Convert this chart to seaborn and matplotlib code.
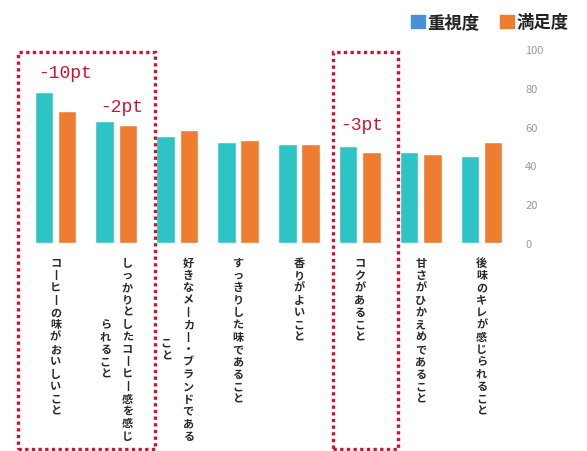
import numpy as np
import pandas as pd
import matplotlib.pyplot as plt
import matplotlib.patches as mpatches
import matplotlib.transforms as mtransforms
import seaborn as sns

# data
items = [
    "コーヒーの味がおいしいこと",
    "しっかりとしたコーヒー感を感じ\nられること",
    "好きなメーカー・ブランドである\nこと",
    "すっきりした味であること",
    "香りがよいこと",
    "コクがあること",
    "甘さがひかえめであること",
    "後味のキレが感じられること",
]
importance = [78, 63, 55, 52, 51, 50, 47, 45]
satisfaction = [68, 61, 58, 53, 51, 47, 46, 52]
series = ["重視度", "満足度"]
yticks = [0, 20, 40, 60, 80, 100]
delta_groups = [0, 1, 5]

# styling / placement
bar_colors = {"重視度": "#2ec4c6", "満足度": "#ee7d31"}
legend_colors = {"重視度": "#4a90d9", "満足度": "#ee7d31"}
red = "#cc1530"
box_spans = [(-0.62, 1.64), (4.56, 5.62)]
delta_pos = [(-0.29, 88), (0.73, 70.6), (4.68, 61.3)]
vertical_forms = {"ー": "丨"}  # long vowel mark drawn upright in vertical text

df = pd.DataFrame({
    "item": items * 2,
    "series": [series[0]] * len(items) + [series[1]] * len(items),
    "value": importance + satisfaction,
})

sns.set_style("white")
plt.rcParams["font.family"] = ["Noto Sans CJK JP", "DejaVu Sans"]

fig = plt.figure(figsize=(5.87, 4.52), dpi=100)
ax = fig.add_axes([25 / 587, 208 / 452, 487 / 587, 194 / 452])

sns.barplot(data=df, x="item", y="value", hue="series", palette=bar_colors,
            width=0.76, gap=0.2, saturation=1, legend=False, ax=ax)

ax.set_xlim(-0.5, len(items) - 0.5)
ax.set_ylim(0, 100)
ax.set_yticks(yticks)
ax.yaxis.tick_right()
ax.tick_params(axis="y", length=0, pad=9.4, labelcolor="#999999", labelsize=8)
ax.set_xticks(range(len(items)))
ax.set_xticklabels([])
ax.tick_params(axis="x", length=0)
ax.set_xlabel("")
ax.set_ylabel("")
for s in ax.spines.values():
    s.set_visible(False)
ax.axhline(0, color="#ececec", lw=0.8, zorder=0)

# vertical (tategaki) category labels, one glyph at a time
trans_lbl = ax.get_xaxis_transform()
char_step = 8.9
col_step = 15.8
for i, label in enumerate(items):
    cols = label.split("\n")
    n0 = len(cols[0])
    for j, col in enumerate(cols):
        dx = ((len(cols) - 1) / 2 - j) * col_step
        dy0 = 13.7 + (n0 - len(col)) / 2 * char_step
        for k, ch in enumerate(col):
            ax.annotate(vertical_forms.get(ch, ch), xy=(i, 0), xycoords=trans_lbl,
                        xytext=(dx, -(dy0 + k * char_step)), textcoords="offset points",
                        ha="center", va="center", fontsize=8, color="#2a2a2a",
                        fontweight="bold", annotation_clip=False)

# red dotted highlight boxes
trans_box = mtransforms.blended_transform_factory(ax.transData, fig.transFigure)
for x0, x1 in box_spans:
    rect = mpatches.Rectangle((x0, 0.004), x1 - x0, 0.883 - 0.004, transform=trans_box,
                              fill=False, edgecolor=red, lw=2.4, linestyle=(0, (1, 1)),
                              clip_on=False, zorder=5)
    fig.add_artist(rect)

# gap labels
for g, (tx, ty) in zip(delta_groups, delta_pos):
    diff = satisfaction[g] - importance[g]
    ax.text(tx, ty, f"{diff}pt", color=red, fontsize=13, family="Liberation Mono",
            ha="left", va="center", zorder=6)

handles = [mpatches.Patch(color=legend_colors[s]) for s in series]
leg = fig.legend(handles, series, loc="upper right", bbox_to_anchor=(0.99, 0.995), ncol=2,
                 frameon=False, fontsize=12.5, handlelength=0.8, handleheight=0.8,
                 handletextpad=0.15, columnspacing=1.2, borderpad=0.2)
for t in leg.get_texts():
    t.set_color("#222222")
    t.set_fontweight("bold")

fig.savefig("out.png", dpi=100)
